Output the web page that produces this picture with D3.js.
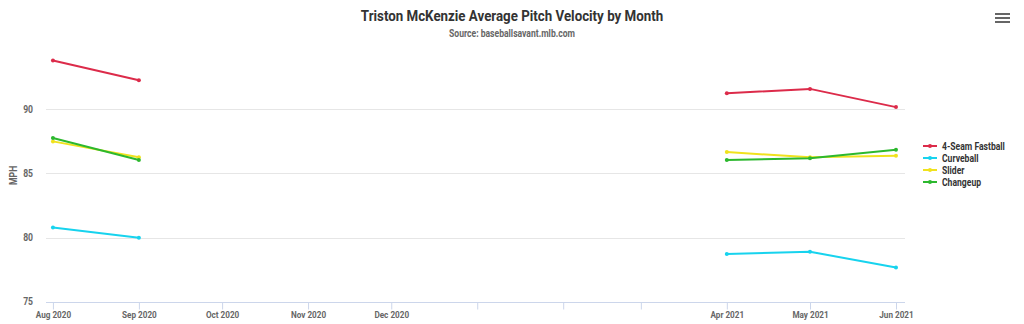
<!DOCTYPE html>
<html>
<head>
<meta charset="utf-8">
<script src="https://cdn.jsdelivr.net/npm/d3@7"></script>
<style>
  body { margin: 0; background: #fff; }
  svg { display: block; font-family: "Roboto", sans-serif; }
</style>
</head>
<body>
<svg id="chart" width="1024" height="324"></svg>
<script>
// ---- data ----
const months = ["2020-08", "2020-09", "2020-10", "2020-11", "2020-12", "2021-01", "2021-02", "2021-03", "2021-04", "2021-05", "2021-06"];
const tickLabels = ["Aug 2020", "Sep 2020", "Oct 2020", "Nov 2020", "Dec 2020", "", "", "", "Apr 2021", "May 2021", "Jun 2021"];
const seriesNames = ["4-Seam Fastball", "Curveball", "Slider", "Changeup"];
const seriesColors = ["#dc2b4a", "#17d3ee", "#f0e21e", "#2cb82e"];
const fastball  = [93.8, 92.25, null, null, null, null, null, null, 91.24, 91.58, 90.16];
const curveball = [80.78, 79.98, null, null, null, null, null, null, 78.71, 78.89, 77.67];
const slider    = [87.49, 86.25, null, null, null, null, null, null, 86.66, 86.25, 86.37];
const changeup  = [87.75, 86.04, null, null, null, null, null, null, 86.04, 86.17, 86.84];
const yTicks = [75, 80, 85, 90];
const title = "Triston McKenzie Average Pitch Velocity by Month";
const subtitle = "Source: baseballsavant.mlb.com";
const yTitle = "MPH";

const allSeries = [fastball, curveball, slider, changeup];
const parse = d3.timeParse("%Y-%m");
const dates = months.map(parse);

const svg = d3.select("#chart");
const plot = { left: 46, right: 905, top: 45, bottom: 301.7 };
const SX = 0.86; // condensed look

const x = d3.scaleTime()
  .domain([new Date(2020, 6, 29, 12), new Date(2021, 5, 4, 6)])
  .range([plot.left, plot.right]);
const y = d3.scaleLinear().domain([75, 95]).range([plot.bottom, plot.top]);

function label(g, tx, ty, str, size, color, anchor, rot) {
  return g.append("text")
    .attr("transform", `translate(${tx},${ty})` + (rot ? ` rotate(${rot})` : "") + ` scale(${SX},1)`)
    .attr("text-anchor", anchor || "start")
    .attr("font-size", size).attr("font-weight", "bold").attr("fill", color).text(str);
}

// title
label(svg, 512, 21, title, 15.5, "#333", "middle");
label(svg, 512, 37, subtitle, 10, "#666", "middle");

// grid
svg.append("g").selectAll("line").data(yTicks.slice(1)).join("line")
  .attr("x1", plot.left).attr("x2", plot.right)
  .attr("y1", d => Math.round(y(d)) + 0.5).attr("y2", d => Math.round(y(d)) + 0.5)
  .attr("stroke", "#e6e6e6").attr("stroke-width", 1);

// y labels
yTicks.forEach(t => label(svg, 33, y(t) + 3.5, t, 10, "#666", "end"));
label(svg, 16.5, (plot.top + plot.bottom) / 2 + 2, yTitle, 10, "#666", "middle", -90);

// x axis
const xAxis = d3.axisBottom(x).tickValues(dates).tickSize(7)
  .tickFormat((d, i) => tickLabels[i]);
const gx = svg.append("g").attr("transform", `translate(0,${Math.round(plot.bottom) + 0.5})`).call(xAxis);
gx.select(".domain").attr("stroke", "#ccd6eb").attr("d", `M${plot.left},0H${plot.right}`);
gx.selectAll(".tick line").attr("stroke", "#ccd6eb");
gx.selectAll(".tick text").attr("font-size", 9.5).attr("font-weight", "bold")
  .attr("fill", "#666").attr("font-family", "Roboto, sans-serif")
  .attr("y", 9).attr("dy", "0.71em").attr("transform", `scale(${SX},1)`);

// lines
const line = d3.line().defined(d => d.v !== null).x(d => x(d.date)).y(d => y(d.v));
allSeries.forEach((vals, si) => {
  const pts = vals.map((v, i) => ({ date: dates[i], v }));
  svg.append("path").datum(pts).attr("d", line).attr("fill", "none")
    .attr("stroke", seriesColors[si]).attr("stroke-width", 2).attr("stroke-linejoin", "round");
  svg.append("g").selectAll("circle").data(pts.filter(p => p.v !== null)).join("circle")
    .attr("cx", p => x(p.date)).attr("cy", p => y(p.v)).attr("r", 2)
    .attr("fill", seriesColors[si]);
});

// legend
const lg = svg.append("g");
seriesNames.forEach((name, i) => {
  const yy = 146 + i * 12;
  lg.append("line").attr("x1", 923).attr("x2", 937).attr("y1", yy).attr("y2", yy)
    .attr("stroke", seriesColors[i]).attr("stroke-width", 2);
  lg.append("circle").attr("cx", 930).attr("cy", yy).attr("r", 2).attr("fill", seriesColors[i]);
  label(lg, 942, yy + 3.5, name, 10, "#333", "start");
});

// menu icon
[0, 1, 2].forEach(k => {
  svg.append("rect").attr("x", 995).attr("y", 13 + k * 4).attr("width", 15).attr("height", 2)
    .attr("fill", "#666");
});
</script>
</body>
</html>
